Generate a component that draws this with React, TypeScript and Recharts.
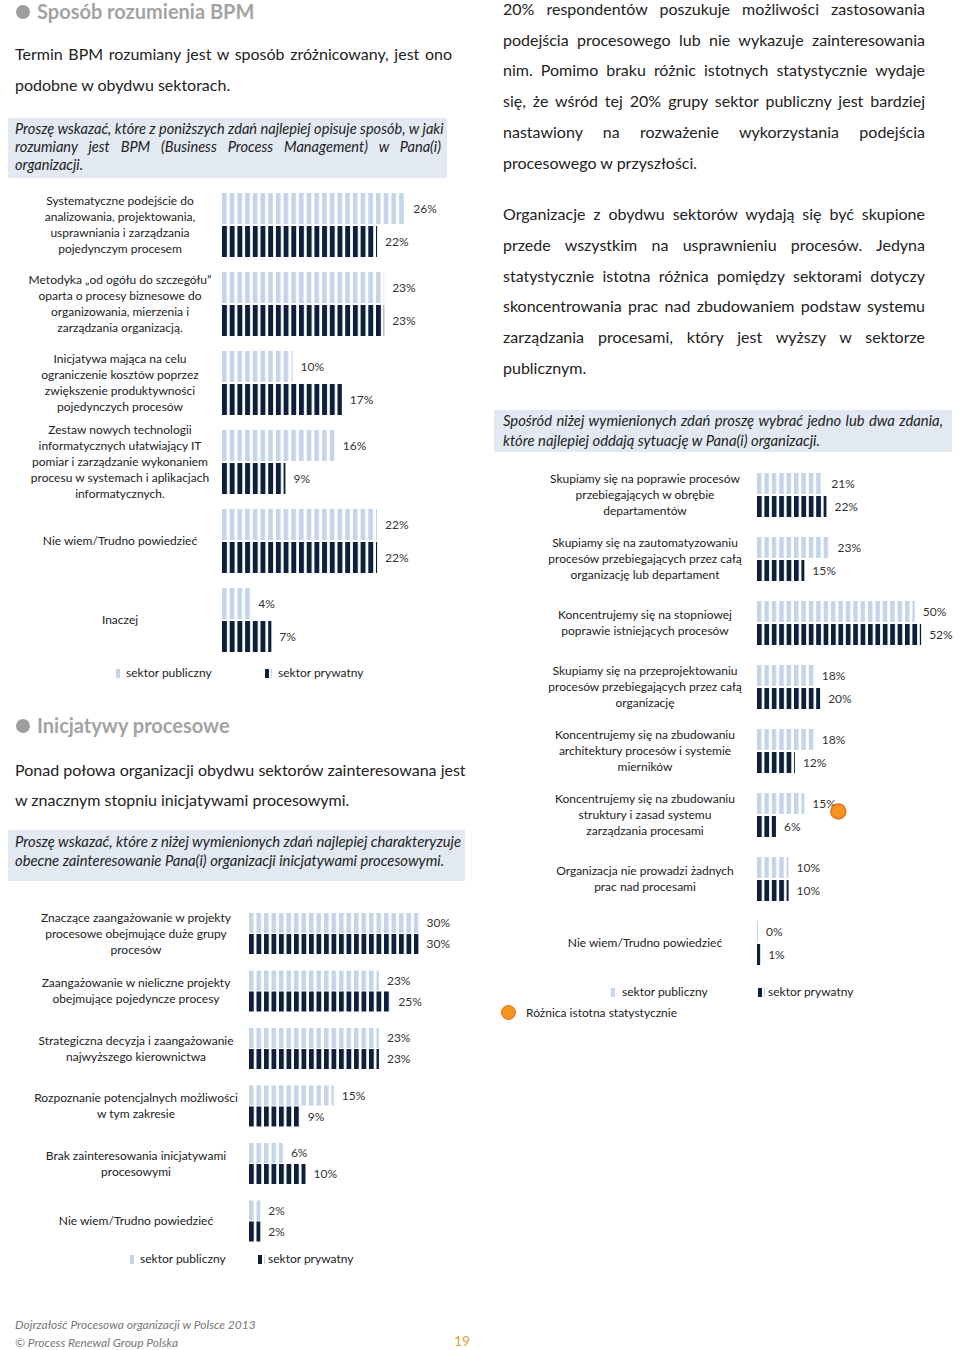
import React from "react";
import { BarChart, Bar, XAxis, YAxis, LabelList } from "recharts";

// --- data ---
const bpmLabels = [
  "Systematyczne podejście do\nanalizowania, projektowania,\nusprawniania i zarządzania\npojedynczym procesem",
  "Metodyka  „od ogółu do szczegółu”\noparta o procesy biznesowe do\norganizowania,  mierzenia  i\nzarządzania  organizacją.",
  "Inicjatywa mająca na celu\nograniczenie kosztów poprzez\nzwiększenie produktywności\npojedynczych procesów",
  "Zestaw nowych technologii\ninformatycznych ułatwiający IT\npomiar i zarządzanie wykonaniem\nprocesu w systemach i aplikacjach\ninformatycznych.",
  "Nie wiem/Trudno powiedzieć",
  "Inaczej",
];
const bpmPublic = [26, 23, 10, 16, 22, 4];
const bpmPrivate = [22, 23, 17, 9, 22, 7];

const initLabels = [
  "Znaczące zaangażowanie w projekty\nprocesowe obejmujące duże grupy\nprocesów",
  "Zaangażowanie w nieliczne projekty\nobejmujące pojedyncze procesy",
  "Strategiczna decyzja i zaangażowanie\nnajwyższego kierownictwa",
  "Rozpoznanie potencjalnych możliwości\nw tym zakresie",
  "Brak zainteresowania inicjatywami\nprocesowymi",
  "Nie wiem/Trudno powiedzieć",
];
const initPublic = [30, 23, 23, 15, 6, 2];
const initPrivate = [30, 25, 23, 9, 10, 2];

const focusLabels = [
  "Skupiamy się na poprawie procesów\nprzebiegających w obrębie\ndepartamentów",
  "Skupiamy się na zautomatyzowaniu\nprocesów przebiegających przez całą\norganizację lub departament",
  "Koncentrujemy się na stopniowej\npoprawie istniejących procesów",
  "Skupiamy się na przeprojektowaniu\nprocesów przebiegających przez całą\norganizację",
  "Koncentrujemy się na zbudowaniu\narchitektury procesów i systemie\nmierników",
  "Koncentrujemy się na zbudowaniu\nstruktury i zasad systemu\nzarządzania procesami",
  "Organizacja nie prowadzi żadnych\nprac nad procesami",
  "Nie wiem/Trudno powiedzieć",
];
const focusPublic = [21, 23, 50, 18, 18, 15, 10, 0];
const focusPrivate = [22, 15, 52, 20, 12, 6, 10, 1];
const focusSignificant = [0, 0, 0, 0, 0, 1, 0, 0];

const legendPublic = "sektor publiczny";
const legendPrivate = "sektor prywatny";
const legendSignificant = "Różnica istotna statystycznie";

const bpmTable = bpmLabels.map((label, i) => ({ label, pub: bpmPublic[i], priv: bpmPrivate[i] }));
const initTable = initLabels.map((label, i) => ({ label, pub: initPublic[i], priv: initPrivate[i] }));
const focusTable = focusLabels.map((label, i) => ({
  label,
  pub: focusPublic[i],
  priv: focusPrivate[i],
  sig: focusSignificant[i],
}));

// --- styles ---
const LIGHT = "#c4d5ea";
const DARK = "#0e1f3b";
const BOX = "#e2e9f3";
const FONT = "Lato, 'Open Sans', sans-serif";
const TEXT = "#222";

function CatTick(props: any) {
  const { y, payload, cx } = props;
  const lines = String(payload.value).split("\n");
  const lh = 16;
  const start = y - ((lines.length - 1) * lh) / 2;
  return (
    <text x={cx} y={start} textAnchor="middle" fontSize={12} fill="#222" fontFamily={FONT}>
      {lines.map((l, i) => (
        <tspan key={i} x={cx} y={start + i * lh} dy="0.35em">
          {l}
        </tspan>
      ))}
    </text>
  );
}

function SigDot(props: any) {
  const vb = props.viewBox || props;
  if (!props.value) return null;
  const x = vb.x + vb.width + 34;
  const y = vb.y + vb.height / 2 + 8;
  return <circle cx={x} cy={y} r={7.5} fill="#f7931e" stroke="#e8701a" strokeWidth={1.5} />;
}

function Stripes({ id, color, x0, period, w }: any) {
  return (
    <pattern id={id} patternUnits="userSpaceOnUse" x={x0} y={0} width={period} height={10}>
      <rect x={0} y={0} width={w} height={10} fill={color} />
    </pattern>
  );
}

function StripedBars(props: {
  data: any[];
  width: number;
  height: number;
  axisWidth: number;
  cx: number;
  max: number;
  barSize: number;
  gap: number;
  prefix: string;
  period: number;
  sig?: boolean;
}) {
  const { data, width, height, axisWidth, cx, max, barSize, gap, prefix, period, sig } = props;
  const pct = (v: any) => `${v}%`;
  return (
    <BarChart
      layout="vertical"
      width={width}
      height={height}
      data={data}
      margin={{ top: 0, right: 0, bottom: 0, left: 0 }}
      barSize={barSize}
      barGap={gap}
    >
      <defs>
        <Stripes id={`${prefix}-pub`} color={LIGHT} x0={axisWidth} period={period} w={period * 0.6} />
        <Stripes id={`${prefix}-priv`} color={DARK} x0={axisWidth} period={period} w={period * 0.64} />
      </defs>
      <XAxis type="number" domain={[0, max]} hide />
      <YAxis
        type="category"
        dataKey="label"
        width={axisWidth}
        axisLine={false}
        tickLine={false}
        interval={0}
        tick={(p: any) => <CatTick {...p} cx={cx} />}
      />
      <Bar dataKey="pub" fill={`url(#${prefix}-pub)`} minPointSize={1} isAnimationActive={false}>
        <LabelList dataKey="pub" position="right" offset={8} formatter={pct} fill="#333" fontSize={12} fontFamily={FONT} />
        {sig && <LabelList dataKey="sig" content={<SigDot />} />}
      </Bar>
      <Bar dataKey="priv" fill={`url(#${prefix}-priv)`} minPointSize={1} isAnimationActive={false}>
        <LabelList dataKey="priv" position="right" offset={8} formatter={pct} fill="#333" fontSize={12} fontFamily={FONT} />
      </Bar>
    </BarChart>
  );
}

function Lines({ lines, left, top, width, lh, size, italic, justifyLast }: any) {
  return (
    <div
      style={{
        position: "absolute",
        left,
        top,
        width,
        fontSize: size,
        lineHeight: `${lh}px`,
        fontStyle: italic ? "italic" : "normal",
        color: TEXT,
      }}
    >
      {lines.map((l: string, i: number) => {
        const just = i < lines.length - 1 || justifyLast;
        return (
          <div key={i} style={{ textAlign: "justify", textAlignLast: just ? "justify" : "left", whiteSpace: "nowrap" as any }}>
            {l}
          </div>
        );
      })}
    </div>
  );
}

function Heading({ top, text }: any) {
  return (
    <div style={{ position: "absolute", left: 16, top }}>
      <div style={{ position: "absolute", left: 0, top: 5, width: 14, height: 14, borderRadius: 7, background: "#9d9d9d" }} />
      <div style={{ position: "absolute", left: 21, top: 0, fontSize: 20, lineHeight: "22px", fontWeight: 700, color: "#a3a3a3", whiteSpace: "nowrap" }}>
        {text}
      </div>
    </div>
  );
}

function LegendItem({ left, top, dark, text, textLeft }: any) {
  return (
    <>
      <div style={{ position: "absolute", left, top: top - 4, width: 4, height: 9, background: dark ? DARK : LIGHT }} />
      {dark && <div style={{ position: "absolute", left: left + 6, top: top - 4, width: 1, height: 9, background: LIGHT }} />}
      <div style={{ position: "absolute", left: textLeft, top: top - 8, fontSize: 12, lineHeight: "16px", color: TEXT, whiteSpace: "nowrap" }}>
        {text}
      </div>
    </>
  );
}

function Box({ left, top, width, height }: any) {
  return <div style={{ position: "absolute", left, top, width, height, background: BOX }} />;
}

export default function App() {
  return (
    <div
      style={{
        position: "absolute",
        left: 0,
        top: 0,
        width: 960,
        height: 1350,
        background: "#fff",
        fontFamily: FONT,
        overflow: "hidden",
      }}
    >
      <Heading top={0} text="Sposób rozumienia BPM" />
      <Lines
        left={15}
        top={38}
        width={437}
        lh={31}
        size={16}
        lines={["Termin BPM rozumiany jest w sposób zróżnicowany, jest ono", "podobne  w obydwu sektorach."]}
      />
      <Box left={8} top={118} width={439} height={60} />
      <Lines
        left={15}
        top={120}
        width={426}
        lh={18}
        size={14.6}
        italic
        lines={[
          "Proszę wskazać, które z poniższych zdań najlepiej opisuje sposób, w jaki",
          "rozumiany jest BPM (Business Process Management) w Pana(i)",
          "organizacji.",
        ]}
      />

      <div style={{ position: "absolute", left: 0, top: 185 }}>
        <StripedBars
          data={bpmTable}
          width={504}
          height={474}
          axisWidth={222}
          cx={120}
          max={40}
          barSize={31}
          gap={2}
          prefix="bpm"
          period={7.7}
        />
      </div>
      <LegendItem left={116} top={673} text={legendPublic} textLeft={126} />
      <LegendItem left={265} top={673} dark text={legendPrivate} textLeft={278} />

      <Heading top={714} text="Inicjatywy procesowe" />
      <Lines
        left={15}
        top={755}
        width={449}
        lh={30}
        size={16}
        lines={["Ponad połowa organizacji obydwu sektorów zainteresowana jest", "w znacznym stopniu inicjatywami procesowymi."]}
      />
      <Box left={8} top={830} width={457} height={51} />
      <Lines
        left={15}
        top={832}
        width={440}
        lh={19}
        size={14.8}
        italic
        lines={[
          "Proszę wskazać, które z niżej wymienionych zdań najlepiej charakteryzuje",
          "obecne zainteresowanie Pana(i) organizacji inicjatywami procesowymi.",
        ]}
      />

      <div style={{ position: "absolute", left: 0, top: 905 }}>
        <StripedBars
          data={initTable}
          width={475}
          height={345}
          axisWidth={249}
          cx={136}
          max={40}
          barSize={20}
          gap={1}
          prefix="init"
          period={7.5}
        />
      </div>
      <LegendItem left={130} top={1259} text={legendPublic} textLeft={140} />
      <LegendItem left={258} top={1259} dark text={legendPrivate} textLeft={268} />

      <Lines
        left={503}
        top={-6}
        width={422}
        lh={30.7}
        size={16}
        lines={[
          "20% respondentów poszukuje możliwości zastosowania",
          "podejścia procesowego lub nie wykazuje zainteresowania",
          "nim. Pomimo braku różnic istotnych statystycznie wydaje",
          "się, że wśród tej 20% grupy sektor publiczny jest bardziej",
          "nastawiony na rozważenie wykorzystania podejścia",
          "procesowego w przyszłości.",
        ]}
      />
      <Lines
        left={503}
        top={199}
        width={422}
        lh={30.8}
        size={16}
        lines={[
          "Organizacje z obydwu sektorów wydają się być skupione",
          "przede wszystkim na usprawnieniu procesów. Jedyna",
          "statystycznie istotna różnica pomiędzy sektorami dotyczy",
          "skoncentrowania prac nad zbudowaniem podstaw systemu",
          "zarządzania procesami, który jest wyższy w sektorze",
          "publicznym.",
        ]}
      />
      <Box left={494} top={410} width={458} height={42} />
      <Lines
        left={503}
        top={410}
        width={440}
        lh={20}
        size={14.8}
        italic
        lines={[
          "Spośród niżej wymienionych zdań proszę wybrać jedno lub dwa zdania,",
          "które najlepiej oddają sytuację w Pana(i) organizacji.",
        ]}
      />

      <div style={{ position: "absolute", left: 490, top: 463 }}>
        <StripedBars
          data={focusTable}
          width={469}
          height={512}
          axisWidth={267}
          cx={155}
          max={64}
          barSize={21}
          gap={2}
          prefix="focus"
          period={7.4}
          sig
        />
      </div>
      <LegendItem left={611} top={992} text={legendPublic} textLeft={622} />
      <LegendItem left={758} top={992} dark text={legendPrivate} textLeft={768} />
      <div
        style={{
          position: "absolute",
          left: 501,
          top: 1005,
          width: 13,
          height: 13,
          borderRadius: 8,
          background: "#f7931e",
          border: "1.5px solid #e8701a",
        }}
      />
      <div style={{ position: "absolute", left: 526, top: 1005, fontSize: 12, lineHeight: "16px", color: TEXT }}>
        {legendSignificant}
      </div>

      <div style={{ position: "absolute", left: 15, top: 1316, fontSize: 12, lineHeight: "18px", fontStyle: "italic", color: "#777" }}>
        <div>Dojrzałość Procesowa organizacji w Polsce 2013</div>
        <div>© Process Renewal Group Polska</div>
      </div>
      <div style={{ position: "absolute", left: 454, top: 1332, fontSize: 14, color: "#e0a040" }}>19</div>
    </div>
  );
}
